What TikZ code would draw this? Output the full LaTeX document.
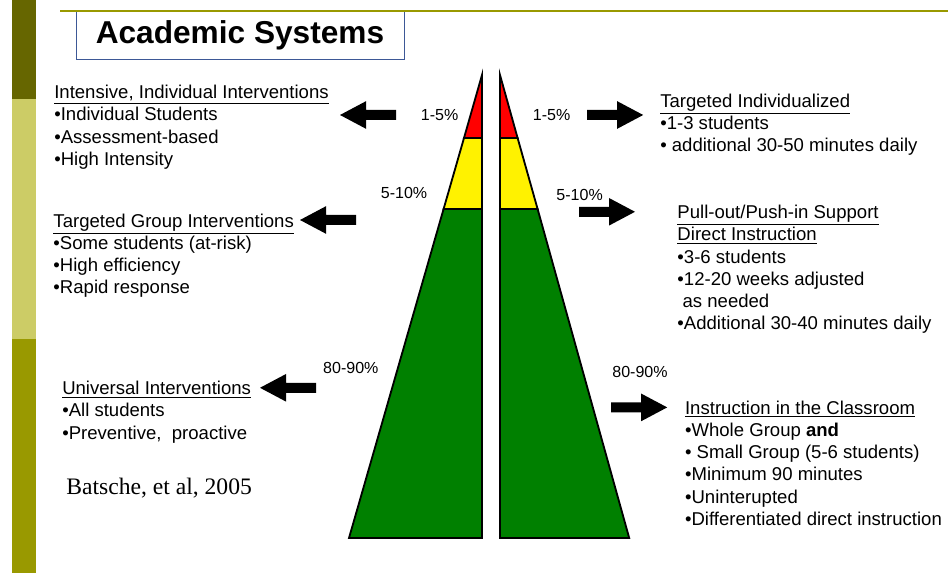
\documentclass[tikz,border=0pt]{standalone}
\usepackage{fontspec}
\setmainfont{Liberation Sans}
\newfontfamily\serifcite{Liberation Serif}
\definecolor{olivedark}{RGB}{102,102,0}
\definecolor{olivelight}{RGB}{204,204,102}
\definecolor{olivemid}{RGB}{153,153,0}
\definecolor{boxblue}{RGB}{61,88,150}
\definecolor{tiergreen}{RGB}{0,128,0}
\tikzset{
  bodytext/.style={anchor=north west,align=left,inner sep=0pt,font=\fontsize{13.2}{15.8}\selectfont},
  pct/.style={inner sep=0pt,font=\fontsize{11.4}{13}\selectfont},
  layer/.style={draw=black,line width=1.3pt}
}
\begin{document}
\begin{tikzpicture}
\useasboundingbox (0,0) rectangle (23.7,14.325);
% side bar and top rule
\fill[olivedark](0.3,11.85) rectangle (0.9,14.325);
\fill[olivelight](0.3,5.85) rectangle (0.9,11.85);
\fill[olivemid](0.3,0) rectangle (0.9,5.85);
\node[draw=boxblue,line width=0.7pt,minimum width=8.2cm,minimum height=1.21cm,
  font=\fontsize{22.5}{27}\selectfont\bfseries](title) at (6,13.445) {Academic Systems};
\draw[olivemid,line width=1.5pt](1.5,14.05)--(23.7,14.05);
% left half of the pyramid
\draw[layer,fill=red](12.05,12.45)--(11.6,10.875)--(12.05,10.875)--cycle;
\draw[layer,fill=yellow](11.6,10.875)--(11.09,9.1)--(12.05,9.1)--(12.05,10.875)--cycle;
\draw[layer,fill=tiergreen](11.09,9.1)--(8.725,0.875)--(12.05,0.875)--(12.05,9.1)--cycle;
% right half of the pyramid
\draw[layer,fill=red](12.5,12.45)--(12.94,10.875)--(12.5,10.875)--cycle;
\draw[layer,fill=yellow](12.94,10.875)--(13.44,9.1)--(12.5,9.1)--(12.5,10.875)--cycle;
\draw[layer,fill=tiergreen](13.44,9.1)--(15.73,0.875)--(12.5,0.875)--(12.5,9.1)--cycle;
% block arrows, tip at (\x,\y)
\foreach \x/\y/\d in {8.5/11.45/1,7.5/8.825/1,6.5/4.63/1,16.08/11.45/-1,15.875/9.03/-1,16.68/4.14/-1}
  \fill[shift={(\x,\y)},xscale=\d](0,0)--(0.65,0.345)--(0.65,0.125)--(1.4,0.125)--(1.4,-0.125)--(0.65,-0.125)--(0.65,-0.345)--cycle;
\node[pct](p1l) at (10.99,11.45) {1-5\%};
\node[pct](p1r) at (13.79,11.45) {1-5\%};
\node[pct](p2l) at (10.1,9.5) {5-10\%};
\node[pct](p2r) at (14.49,9.45) {5-10\%};
\node[pct](p3l) at (8.77,5.13) {80-90\%};
\node[pct](p3r) at (16.0,5.03) {80-90\%};
% left column
\node[bodytext](intensive) at (1.35,12.2) {\underline{Intensive, Individual Interventions}\\•Individual Students\\•Assessment-based\\•High Intensity};
\node[bodytext](targeted) at (1.33,8.99) {\underline{Targeted Group Interventions}\\•Some students (at-risk)\\•High efficiency\\•Rapid response};
\node[bodytext](universal) at (1.55,4.8) {\underline{Universal Interventions}\\•All students\\•Preventive,\ \ proactive};
\node[anchor=west,inner sep=0pt,font=\serifcite\fontsize{16.8}{20}\selectfont](cite) at (1.65,2.125) {Batsche, et al, 2005};
% right column
\node[bodytext](individ) at (16.5,11.99) {\underline{Targeted Individualized}\\•1-3 students\\• additional 30-50 minutes daily};
\node[bodytext](pullout) at (16.93,9.2) {\underline{Pull-out/Push-in Support}\\\underline{Direct Instruction}\\•3-6 students\\•12-20 weeks adjusted\\\ as needed\\•Additional 30-40 minutes daily};
\node[bodytext](classroom) at (17.12,4.31) {\underline{Instruction in the Classroom}\\•Whole Group \textbf{and}\\• Small Group (5-6 students)\\•Minimum 90 minutes\\•Uninterupted\\•Differentiated direct instruction};
\end{tikzpicture}
\end{document}
